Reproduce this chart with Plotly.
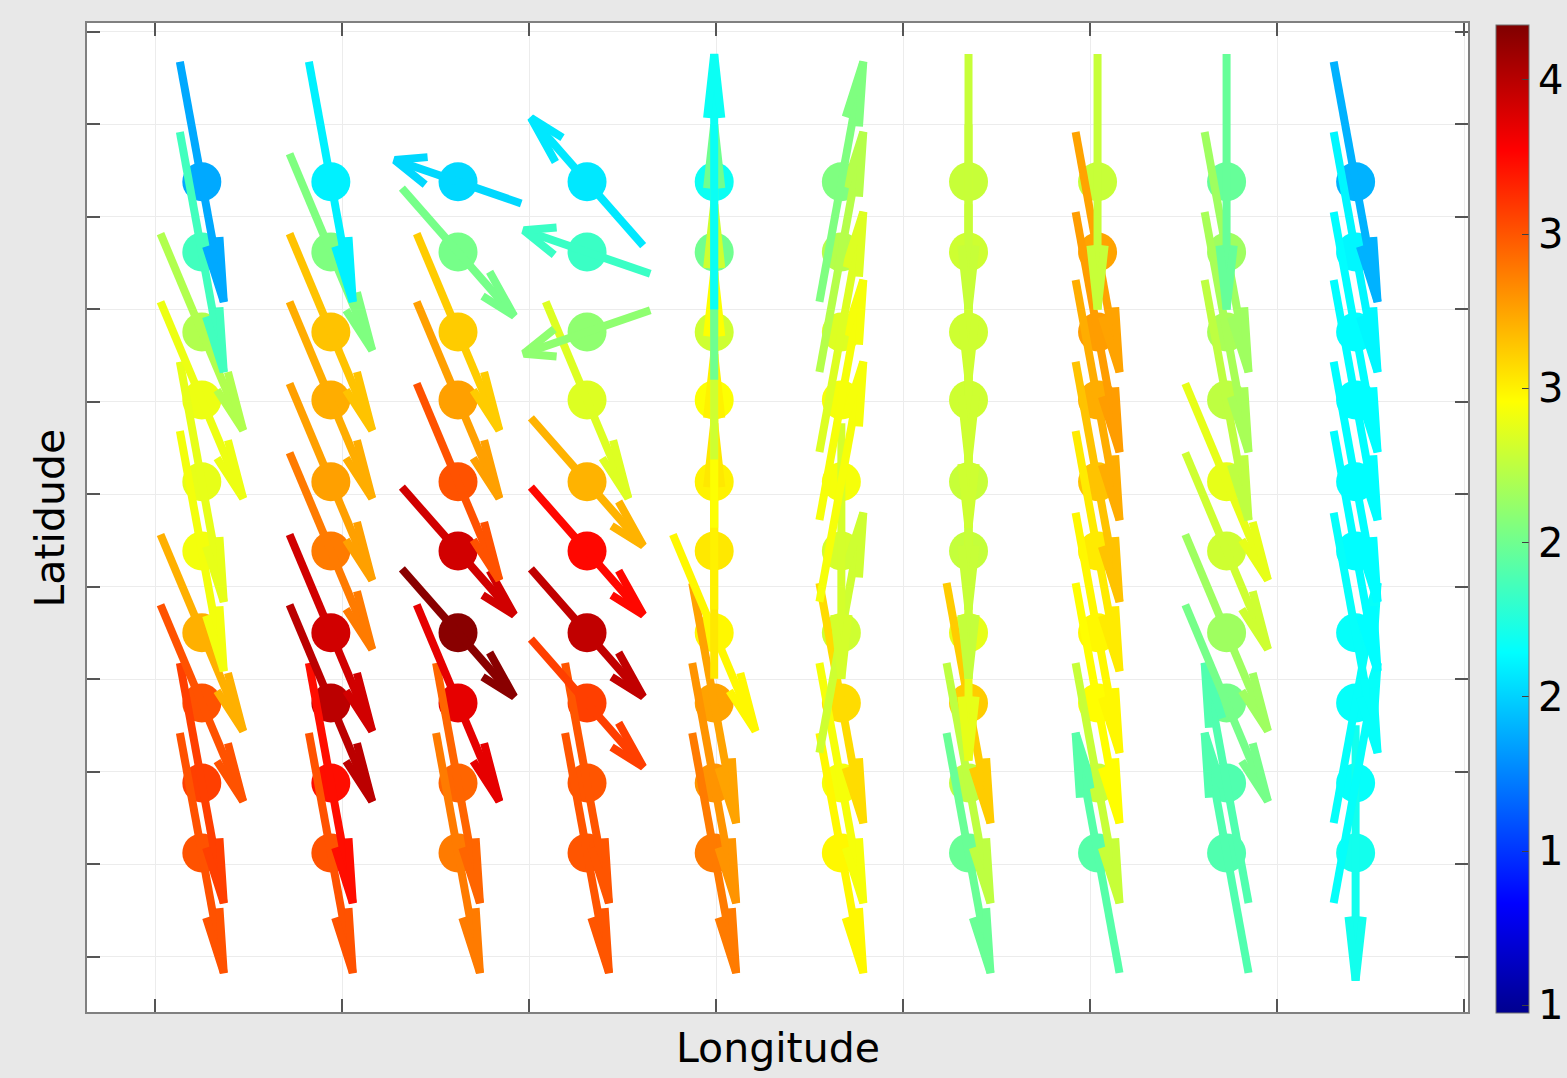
import plotly.graph_objects as go
from plotly.colors import sample_colorscale

# ---------------- data ----------------
lon = [110.25, 110.94, 111.62, 112.31, 112.99, 113.67, 114.35, 115.04, 115.73, 116.42]
# rows listed from north (top) to south (bottom)
lat = [22.095, 21.905, 21.689, 21.505, 21.284, 21.097, 20.876, 20.686, 20.470, 20.281]

# unit direction components (east, north), one row per latitude
u = [
    [0.34, 0.34, -0.98, -0.87, 0.00, 0.34, 0.00, 0.00, 0.00, 0.34],
    [0.34, 0.64, 0.87, -0.98, 0.00, 0.34, 0.00, 0.34, 0.34, 0.34],
    [0.64, 0.64, 0.64, -0.98, 0.00, 0.34, 0.00, 0.34, 0.34, 0.34],
    [0.64, 0.64, 0.64, 0.64, 0.00, 0.34, 0.00, 0.34, 0.34, 0.34],
    [0.34, 0.64, 0.64, 0.87, 0.00, 0.34, 0.00, 0.34, 0.64, 0.34],
    [0.34, 0.64, 0.87, 0.87, 0.00, 0.00, 0.00, 0.34, 0.64, 0.34],
    [0.64, 0.64, 0.87, 0.87, 0.64, 0.34, 0.00, 0.34, 0.64, 0.34],
    [0.64, 0.64, 0.64, 0.87, 0.34, 0.34, 0.34, 0.34, 0.64, 0.34],
    [0.34, 0.34, 0.34, 0.34, 0.34, 0.34, 0.34, 0.34, -0.34, 0.34],
    [0.34, 0.34, 0.34, 0.34, 0.34, 0.34, 0.34, -0.34, -0.34, 0.00],
]
v = [
    [-0.94, -0.94, 0.17, 0.50, 1.00, 0.94, -1.00, -1.00, -1.00, -0.94],
    [-0.94, -0.77, -0.50, 0.17, 1.00, 0.94, -1.00, -0.94, -0.94, -0.94],
    [-0.77, -0.77, -0.77, -0.17, 1.00, 0.94, -1.00, -0.94, -0.94, -0.94],
    [-0.77, -0.77, -0.77, -0.77, 1.00, 0.94, -1.00, -0.94, -0.94, -0.94],
    [-0.94, -0.77, -0.77, -0.50, 1.00, 0.94, -1.00, -0.94, -0.77, -0.94],
    [-0.94, -0.77, -0.50, -0.50, 1.00, -1.00, -1.00, -0.94, -0.77, -0.94],
    [-0.77, -0.77, -0.50, -0.50, -0.77, 0.94, -1.00, -0.94, -0.77, -0.94],
    [-0.77, -0.77, -0.77, -0.50, -0.94, -0.94, -0.94, -0.94, -0.77, 0.94],
    [-0.94, -0.94, -0.94, -0.94, -0.94, -0.94, -0.94, -0.94, 0.94, 0.94],
    [-0.94, -0.94, -0.94, -0.94, -0.94, -0.94, -0.94, 0.94, 0.94, -1.00],
]
# speed shown by colour
speed = [
    [1.87, 2.10, 2.02, 2.07, 2.18, 2.55, 2.78, 2.78, 2.47, 1.90],
    [2.35, 2.55, 2.52, 2.33, 2.50, 2.72, 2.80, 3.25, 2.65, 2.12],
    [2.71, 3.15, 3.12, 2.60, 2.80, 2.85, 2.80, 3.27, 2.68, 2.14],
    [2.90, 3.22, 3.26, 2.85, 2.95, 2.93, 2.80, 3.22, 2.75, 2.14],
    [2.88, 3.26, 3.51, 3.20, 3.00, 2.93, 2.78, 3.15, 2.88, 2.14],
    [2.92, 3.38, 3.92, 3.75, 3.03, 2.82, 2.77, 3.02, 2.80, 2.14],
    [3.21, 3.92, 4.15, 3.97, 2.98, 2.80, 2.88, 2.98, 2.65, 2.16],
    [3.51, 3.99, 3.85, 3.57, 3.25, 3.07, 3.12, 2.96, 2.52, 2.16],
    [3.57, 3.73, 3.45, 3.50, 3.30, 2.93, 2.75, 2.78, 2.40, 2.16],
    [3.51, 3.51, 3.38, 3.50, 3.38, 2.98, 2.48, 2.42, 2.40, 2.20],
]

lon_ticks = [110, 111, 112, 113, 114, 115, 116, 117]
lat_ticks = [20.0, 20.25, 20.5, 20.75, 21.0, 21.25, 21.5, 21.75, 22.0, 22.25, 22.5]
cbar_tickvals = [1.0, 1.5, 2.0, 2.5, 3.0, 3.5, 4.0]
cbar_ticktext = ["1", "1", "2", "2", "3", "3", "4"]

# ---------------- styling ----------------
CMIN, CMAX = 0.975, 4.178
SCALE = 0.69          # arrow length in degrees
ALPHA, BETA = 0.25, 0.22
LW = 8
FONT = "DejaVu Sans"
jet = [
    [0.0, "rgb(0,0,143)"],
    [0.111, "rgb(0,0,255)"],
    [0.365, "rgb(0,255,255)"],
    [0.619, "rgb(255,255,0)"],
    [0.873, "rgb(255,0,0)"],
    [1.0, "rgb(128,0,0)"],
]

fig = go.Figure()

# circles at the grid points
xs, ys, cs = [], [], []
for i, la in enumerate(lat):
    for j, lo in enumerate(lon):
        xs.append(lo)
        ys.append(la)
        cs.append(speed[i][j])

fig.add_trace(go.Scatter(
    x=xs, y=ys, mode="markers", hoverinfo="skip", showlegend=False,
    marker=dict(
        size=39, color=cs, colorscale=jet, cmin=CMIN, cmax=CMAX,
        line=dict(width=0),
        colorbar=dict(
            thickness=33, len=988, lenmode="pixels",
            x=1.0205, xanchor="left", xpad=0,
            y=0.4985, yanchor="middle", ypad=0,
            outlinecolor="#707070", outlinewidth=1,
            tickvals=cbar_tickvals, ticktext=cbar_ticktext,
            ticks="inside", ticklen=7, tickcolor="#404040",
            tickfont=dict(family=FONT, size=40, color="black"),
        ),
    ),
))

# arrows (drawn from the southern row upwards)
for i in reversed(range(len(lat))):
    for j in range(len(lon)):
        du = SCALE * u[i][j]
        dv = SCALE * v[i][j]
        x0 = lon[j] - du / 2
        y0 = lat[i] - dv / 2
        x1 = lon[j] + du / 2
        y1 = lat[i] + dv / 2
        bx1 = x1 - ALPHA * (du + BETA * dv)
        by1 = y1 - ALPHA * (dv - BETA * du)
        bx2 = x1 - ALPHA * (du - BETA * dv)
        by2 = y1 - ALPHA * (dv + BETA * du)
        t = (speed[i][j] - CMIN) / (CMAX - CMIN)
        col = sample_colorscale(jet, [t])[0]
        fig.add_trace(go.Scatter(
            x=[x0, x1, None, bx1, x1, bx2],
            y=[y0, y1, None, by1, y1, by2],
            mode="lines", hoverinfo="skip", showlegend=False,
            line=dict(color=col, width=LW),
        ))

axis_common = dict(
    showticklabels=False, ticks="inside", ticklen=13, tickwidth=1.5,
    tickcolor="#555555", showline=True, linecolor="#808080", linewidth=1.5,
    mirror="ticks", showgrid=True, gridcolor="#ececec", gridwidth=1,
    zeroline=False, automargin=False,
)
fig.update_xaxes(range=[109.636, 117.021], tickvals=lon_ticks, **axis_common)
fig.update_yaxes(range=[19.851, 22.524], tickvals=lat_ticks, **axis_common)

fig.update_layout(
    width=1567, height=1078,
    margin=dict(l=87, r=99, t=23, b=66, pad=0, autoexpand=False),
    paper_bgcolor="#e8e8e8", plot_bgcolor="white",
    font=dict(family=FONT, color="black"),
    annotations=[
        dict(text="Longitude", xref="paper", yref="paper", x=0.5, y=-0.0364,
             xanchor="center", yanchor="middle", showarrow=False,
             font=dict(family=FONT, size=41, color="black")),
        dict(text="Latidude", xref="paper", yref="paper", x=-0.0268, y=0.5,
             xanchor="center", yanchor="middle", showarrow=False, textangle=-90,
             font=dict(family=FONT, size=41, color="black")),
    ],
)

fig.write_html("out.html")
